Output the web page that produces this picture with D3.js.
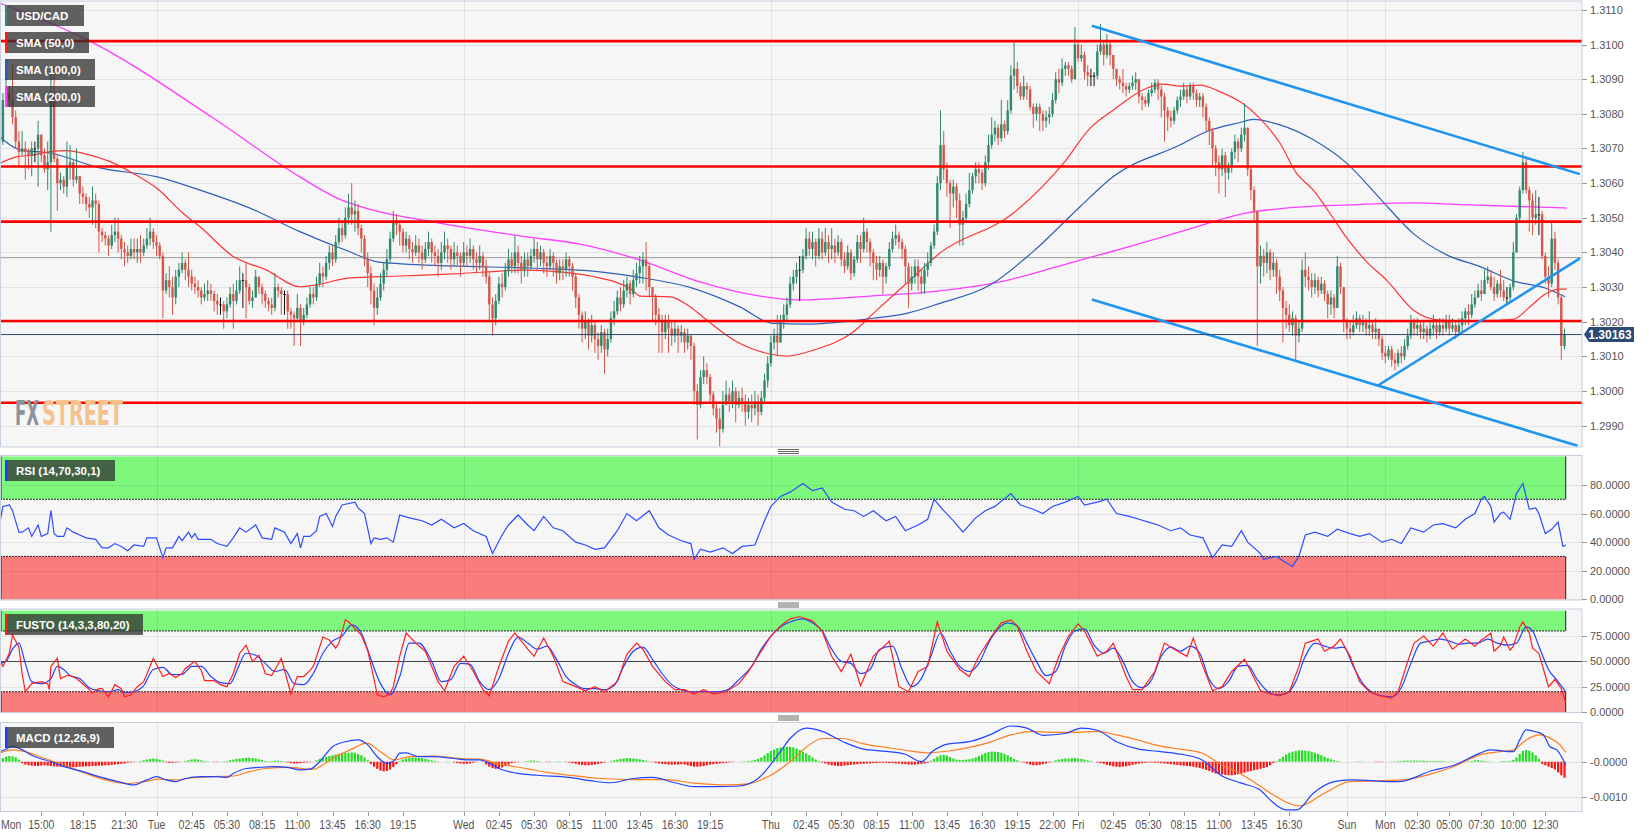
<!DOCTYPE html>
<html><head><meta charset="utf-8">
<script src="https://cdn.jsdelivr.net/npm/d3@7/dist/d3.min.js"></script>
<style>body{margin:0;background:#fff}svg{display:block}</style>
</head><body>
<svg id="c" width="1652" height="838"></svg>
<script>
// ===== DATA (prices in pips above 1.3000; one candle = 15 min) =====
const firstOpen = 72;
const closes = [
84,86,84,79,72,69,70,69,68,70, 70,74,68,64,66,86,67,60,61,59,
65,66,61,62,57,56,54,53,55,54, 46,45,44,42,45,46,44,41,40,39,
41,40,41,40,42,44,46,43,42,39, 29,32,30,27,33,35,37,35,33,31,
30,29,27,28,29,28,26,25,25,23, 25,28,26,29,32,32,30,26,27,33,
30,28,26,25,24,30,29,28,28,23, 22,21,24,20,22,25,28,27,31,34,
33,37,40,38,43,47,45,50,53,51, 52,47,44,38,34,29,24,27,31,35,
38,44,49,48,46,42,44,41,40,42, 40,38,41,43,40,39,37,40,42,41,
38,40,39,37,40,39,41,38,37,39, 36,33,25,21,26,31,30,35,38,36,
40,37,35,38,36,39,41,38,40,37, 36,39,37,34,36,35,38,36,33,27,
22,18,20,16,19,15,13,17,12,15, 21,23,27,25,29,31,28,32,34,36,
38,36,30,27,22,20,17,20,18,16, 18,16,17,14,16,13,0,-4,4,6,
4,-1,-5,-8,-11,-4,-1,-3,0,-4, -2,-3,-6,-4,-5,-3,-6,-2,3,8,
14,16,14,20,22,25,31,33,35,35, 39,44,41,43,39,44,40,43,41,42,
40,43,38,36,40,34,38,43,41,46, 43,40,37,35,37,33,36,41,44,45,
43,41,36,31,33,36,33,31,35,37, 42,46,60,71,64,60,57,59,55,48,
50,54,58,62,64,63,60,66,71,74, 76,73,77,75,81,91,93,88,85,88,
87,82,80,82,80,78,79,80,84,90, 89,93,94,93,90,100,96,97,92,91,
91,91,98,100,97,100,97,93,90,89, 88,87,88,89,90,85,84,83,86,87,
89,87,85,81,79,78,81,84,85,87, 85,88,86,84,85,82,78,75,70,66,
64,68,63,65,69,72,70,74,76,64, 58,52,36,39,37,40,35,37,33,29,
24,22,19,21,16,18,35,33,32,30, 32,29,31,28,25,27,24,36,30,20,
18,17,19,21,19,20,18,19,17,18, 15,11,10,12,9,8,11,10,13,16,
20,18,19,17,18,16,18,19,17,19, 18,20,18,19,17,19,21,23,22,25,
27,29,28,32,33,30,28,31,29,27, 27,30,40,50,58,66,58,55,50,51,
51,39,33,31,44,37,27,13,16.3];
const highs = [
86,94,88,94,81,75,75,72,70,72, 72,78,74,70,72,94,94,68,63,62,
72,71,67,70,61,59,57,56,59,57, 55,47,46,45,48,50,50,45,43,42,
44,44,44,45,44,47,50,47,45,43, 40,34,36,33,35,37,40,38,40,35,
33,32,30,31,32,31,29,28,27,26, 27,30,31,32,36,34,37,31,29,35,
33,31,29,27,27,34,31,30,29,29, 24,23,28,25,24,27,30,30,33,37,
36,39,42,42,45,50,49,53,57,60, 55,54,48,45,40,36,31,30,34,37,
41,46,52,51,49,47,46,45,43,45, 44,42,43,46,44,42,41,43,46,44,
42,43,42,40,43,42,44,42,40,42, 40,38,34,27,28,33,34,37,41,40,
45,42,39,40,40,41,44,43,42,41, 39,41,40,38,38,38,40,39,37,34,
28,23,23,21,22,20,17,19,18,18, 23,26,29,30,32,33,32,35,37,39,
40,43,37,30,28,24,22,22,22,20, 20,19,19,18,18,16,14,2,6,10,
8,5,0,-3,-5,0,3,1,3,1, 0,1,-1,-2,-1,0,-1,0,5,10,
16,18,22,22,25,27,33,35,37,39, 41,47,46,46,44,47,46,47,45,47,
44,45,44,40,42,41,39,45,45,50, 47,44,41,39,39,38,37,43,46,48,
46,44,42,37,36,38,38,35,37,40, 43,48,62,81,75,66,61,61,60,57,
52,57,63,63,66,66,64,68,74,79, 78,77,84,78,84,94,101,95,89,91,
89,88,83,83,83,81,81,82,86,92, 93,96,95,95,94,105,101,100,98,94,
93,92,100,106,101,103,101,97,92,91, 93,89,89,91,92,90,86,85,87,89,
90,90,88,86,82,81,82,85,87,89, 88,89,89,87,86,86,83,79,76,71,
68,70,69,66,70,74,73,76,83,76, 65,59,52,42,41,43,41,40,38,35,
30,26,25,23,22,20,38,40,36,34, 34,33,33,32,29,29,28,39,37,30,
21,20,22,23,22,22,21,23,20,21, 18,16,13,13,13,11,12,13,15,18,
22,21,21,20,20,19,20,22,20,21, 21,22,22,21,20,21,23,24,25,28,
29,31,32,35,36,35,33,32,35,32, 30,31,43,51,59,69,67,59,57,58,
56,52,40,36,49,46,38,28,18];
const lows = [
71,83,82,77,70,65,68,61,64,62, 66,59,66,63,58,46,66,52,58,57,
56,61,59,60,54,54,52,50,48,47, 40,43,42,39,41,43,40,38,36,37,
38,38,37,37,39,41,42,41,39,38, 21,28,27,22,25,30,34,32,30,29,
28,27,25,26,26,26,23,22,22,18, 21,24,18,25,28,24,21,25,24,27,
28,25,24,23,22,23,27,22,22,18, 18,13,20,13,19,21,24,25,26,30,
30,32,35,36,37,42,43,44,48,48, 46,45,40,36,30,25,19,22,26,29,
33,37,43,45,42,40,40,38,37,39, 37,35,37,39,37,36,33,35,38,37,
35,36,36,33,36,36,37,35,34,35, 33,31,20,16,19,25,27,29,33,34,
34,34,31,33,33,35,37,35,36,34, 33,35,33,31,32,32,33,33,29,24,
18,14,15,12,14,11,9,11,5,10, 14,19,22,23,24,27,25,27,30,31,
31,29,27,20,19,11,11,15,11,13, 14,11,14,11,12,9,-4,-14,-5,2,
2,-3,-7,-12,-16,-12,-4,-6,-5,-9, -5,-6,-10,-8,-9,-7,-10,-7,-3,1,
7,12,10,14,18,20,24,29,31,26, 34,38,39,38,36,38,38,39,37,38,
37,39,36,34,35,32,33,37,37,40, 40,36,32,32,33,28,31,35,40,42,
41,38,31,24,29,31,29,28,28,33, 36,41,45,58,61,56,47,53,50,42,
42,49,53,57,60,60,58,59,64,70, 72,71,72,73,74,80,87,86,84,84,
84,81,76,78,75,75,76,77,79,83, 86,88,91,91,89,90,95,95,90,88,
88,88,90,97,94,96,94,90,88,87, 86,85,86,87,87,83,81,82,82,85,
86,84,79,72,75,76,77,80,82,84, 83,84,84,82,82,79,75,71,65,62,
57,62,56,61,63,67,66,69,72,62, 55,49,13,31,33,34,32,33,28,26,
14,18,17,16,9,14,17,30,29,27, 28,27,28,26,21,22,21,24,28,17,
15,15,16,18,17,17,16,16,15,15, 13,9,8,9,7,6,7,8,9,12,
15,16,16,15,15,14,15,16,15,16, 16,17,16,17,15,16,17,19,19,21,
24,27,26,28,31,29,26,27,27,26, 25,26,29,40,49,57,57,46,45,48,
45,38,31,27,30,35,25,9,12];

// moving averages [candle index, pips]
const sma50 = [[-1,65.7],[4.3,67.6],[9.4,68.1],[14.7,69.1],[19.9,69.4],[25.1,68.6],[33.5,66.2],[40.7,62.8],[48.1,58.5],[56.3,51.3],[61.6,47.4],[72,38.8],[82.4,34.9],[92.8,30.1],[97.8,30.6],[107.8,32.6],[124.1,33.2],[140.6,33.8],[163.8,34.9],[174.1,34.4],[183.5,33.2],[196.6,29.2],[199.1,27.4],[208.5,27.2],[214.7,24.3],[219.9,20.5],[229.3,14.2],[238.7,10.9],[244.9,10.1],[253.3,11.8],[265.8,17.1],[272,22.4],[282.4,31.1],[292.8,39.8],[315.7,51.3],[331.4,65.7],[339.7,75.8],[347,81.1],[357.4,87.4],[362.6,88.6],[367.8,88],[374.1,88.3],[380.3,86.4],[387.6,82.9],[392.8,78.7],[399.1,71.5],[404.3,62.8],[409.5,58],[414.7,51.3],[420,44.1],[426.2,37.3],[432.4,32],[440.7,23.4],[449.1,20.5],[461.6,20.3],[472,20.7],[477.2,24.3],[482.4,28.2],[486.6,29.4],[488.7,29.4]];
const sma100 = [[-1,73.4],[5.3,69.6],[14.7,68.7],[30.3,64.4],[48.2,61.8],[61.6,58],[77.2,52.8],[92.8,46],[107.8,40.4],[117.5,37.2],[139.7,36.1],[164.7,35.5],[186.6,34.4],[199.1,32.8],[214.7,29.9],[230.3,24.3],[240.7,19.5],[251.2,19.3],[271.9,21],[282.4,22.4],[292.8,25.3],[308.5,30.6],[323.1,41.2],[336.6,53.2],[347,61.9],[367.8,71],[376.2,74.9],[386.6,77.5],[390.8,78.4],[399.1,76.8],[409.5,72.5],[420,65.7],[430.3,55.6],[440.7,45.5],[451.2,39.3],[461.6,35.9],[472,31.8],[482.4,29.6],[488.2,27.2]];
const sma200 = [[-1,112],[27.2,101],[65.7,78.8],[92.8,61.8],[104.4,55.7],[117.8,51.7],[130.7,49.4],[149.1,46.5],[163.8,44.5],[180.3,42.4],[199.1,37.8],[217.8,31.5],[236.6,27.4],[248.2,26.3],[271,27.4],[292.8,28.9],[311.6,31.5],[330.3,36.1],[348.1,40.7],[367.8,45.9],[388.8,51.4],[405.3,53.1],[421,53.7],[440.6,54.3],[458.5,53.7],[488.8,52.8]];

// drawn levels and trend lines (pips)
const resistLevels = [101, 64.8, 48.9, 20.2, -3.4];
const prevLevel = 38.5;
const lastPrice = 16.3;
const trendLines = [[[340.3,105.4],[492.8,62.6]], [[340.3,26.4],[492.1,-15.8]], [[429.7,1.6],[492.8,38.3]]];

// RSI (14)
const rsiPts = [[-1,53],[0,65],[2,66],[3,62],[5,47],[6,47],[8,50],[9,44],[11,52],[12,44],[14,46],[15,62],[16,46],[17,44],[19,44],[20,50],[22,47],[24,45],[26,43],[29,42],[31,36],[33,36],[35,39],[37,37],[39,34],[41,38],[44,37],[45,43],[48,43],[50,29],[51,36],[53,36],[55,44],[56,41],[58,47],[59,43],[60,46],[61,42],[63,42],[65,42],[67,39],[70,37],[72,43],[74,50],[76,47],[79,52],[81,43],[84,42],[85,50],[88,47],[90,39],[92,46],[93,36],[94,44],[96,44],[98,48],[99,58],[101,60],[103,51],[104,58],[106,66],[110,68],[111,64],[113,60],[115,39],[116,43],[118,42],[120,43],[122,40],[124,59],[127,57],[131,55],[134,52],[137,56],[141,50],[144,53],[147,48],[151,44],[153,32],[156,45],[158,52],[161,59],[164,52],[166,48],[169,58],[172,50],[175,48],[179,40],[182,38],[185,35],[188,36],[192,48],[195,60],[198,55],[202,62],[205,50],[208,45],[212,41],[215,39],[216,28],[218,35],[221,33],[225,36],[228,32],[231,37],[235,38],[238,55],[240,65],[243,72],[246,75],[250,81],[253,76],[256,78],[259,68],[263,63],[266,62],[269,58],[272,62],[276,55],[279,58],[282,48],[286,52],[289,56],[291,70],[294,62],[297,55],[300,47],[304,57],[307,62],[310,65],[315,74],[318,66],[322,63],[325,60],[328,65],[332,68],[336,72],[338,66],[342,68],[345,70],[348,60],[352,58],[355,56],[358,54],[361,52],[365,48],[368,50],[371,45],[375,43],[378,29],[381,38],[384,37],[387,48],[389,40],[393,32],[394,28],[398,30],[400,27],[403,23],[405,30],[407,45],[410,47],[414,44],[417,49],[421,46],[424,44],[427,46],[431,40],[434,42],[437,39],[440,50],[444,47],[447,52],[450,53],[454,50],[457,56],[460,60],[462,70],[463,72],[465,65],[466,54],[468,60],[469,61],[471,56],[473,74],[475,81],[477,63],[479,64],[480,60],[482,46],[484,49],[486,54],[487.5,37],[488.4,38]];

// Full stochastic (14,3,3)  %K red, %D blue
const stoK = [[-1,51],[0,45],[2,58],[3,76],[5,64],[6,38],[7,20],[9,28],[12,30],[14,28],[14.5,22],[15,45],[17,53],[18,33],[20,36],[21,36],[23,33],[26,25],[28,19],[30,23],[31,23],[33,15],[35,27],[37,23],[38,15],[40,17],[42,25],[44,30],[47,53],[50,35],[52,38],[54,34],[56,38],[57,43],[60,50],[62,41],[63,31],[66,31],[68,27],[70,25],[72,38],[74,58],[76,66],[78,50],[80,56],[82,38],[84,36],[87,53],[90,18],[92,35],[94,35],[96,41],[97,45],[100,74],[102,71],[104,63],[105,68],[107,91],[108,89],[112,76],[114,61],[117,17],[119,15],[121,18],[122,25],[124,55],[126,78],[129,68],[132,60],[136,30],[138,21],[141,45],[144,55],[147,40],[150,22],[152,16],[155,45],[158,70],[160,78],[164,62],[166,55],[169,73],[172,55],[175,30],[179,25],[182,21],[185,25],[188,20],[192,30],[195,57],[198,68],[200,62],[203,45],[207,30],[210,22],[213,22],[216,18],[219,22],[222,18],[226,20],[230,28],[233,40],[236,55],[240,75],[243,85],[246,92],[249,94],[253,90],[256,80],[259,55],[262,40],[265,57],[268,26],[272,55],[277,70],[280,25],[283,20],[286,40],[289,45],[292,89],[295,60],[299,42],[302,35],[305,55],[309,75],[312,88],[315,91],[317,85],[320,60],[323,40],[327,28],[330,55],[333,75],[336,87],[338,80],[342,55],[345,60],[347,68],[351,35],[353,22],[356,22],[360,40],[363,68],[366,62],[370,55],[372,73],[375,45],[378,21],[381,25],[384,40],[388,52],[390,40],[393,21],[396,18],[399,16],[402,20],[405,45],[407,68],[411,72],[413,60],[416,65],[418,72],[421,55],[424,30],[427,20],[430,16],[434,14],[436,20],[439,50],[441,68],[444,75],[447,65],[450,78],[453,62],[457,72],[460,65],[462,71],[463,73],[465,78],[466,60],[468,66],[469,74],[471,61],[472,65],[474,84],[475,89],[477,78],[478,63],[480,58],[483,25],[485,32],[487,23],[488.4,9]];
const stoD = [[-1,48],[1,50],[3,62],[5,68],[7,48],[9,30],[12,28],[15,33],[17,45],[19,42],[21,36],[24,33],[27,24],[30,21],[33,20],[36,22],[38,19],[41,20],[44,26],[47,42],[50,44],[53,37],[56,37],[59,45],[62,45],[65,35],[68,29],[71,28],[73,40],[76,58],[79,56],[82,48],[85,40],[88,42],[91,28],[94,27],[97,38],[100,58],[103,70],[106,75],[109,86],[112,78],[115,52],[118,28],[121,17],[124,35],[127,68],[130,68],[134,50],[137,30],[140,32],[143,48],[146,47],[149,30],[152,22],[155,33],[158,58],[161,74],[164,68],[167,62],[170,65],[173,52],[176,35],[179,27],[182,23],[185,23],[188,22],[191,26],[194,45],[197,60],[200,64],[203,52],[206,38],[209,27],[212,22],[215,20],[218,20],[221,20],[224,20],[227,23],[230,32],[234,45],[237,62],[240,75],[243,84],[247,90],[250,92],[253,88],[256,80],[259,62],[262,50],[265,48],[268,38],[271,42],[274,62],[278,65],[281,42],[284,25],[287,33],[290,55],[293,78],[296,60],[299,45],[302,40],[305,48],[308,68],[311,82],[314,88],[317,85],[320,68],[323,50],[326,36],[329,40],[332,65],[335,80],[338,82],[341,66],[344,58],[347,63],[350,50],[353,30],[356,24],[359,32],[362,55],[365,64],[368,60],[371,65],[374,58],[377,32],[380,23],[383,30],[386,45],[389,46],[392,32],[395,21],[398,17],[401,18],[404,30],[407,55],[410,68],[413,65],[416,63],[419,64],[422,45],[425,28],[428,19],[431,16],[434,15],[437,24],[440,48],[443,68],[446,70],[449,72],[452,70],[455,67],[458,68],[461,68],[464,72],[467,68],[470,66],[473,68],[476,84],[478,80],[480,65],[483,42],[486,30],[488.4,20]];

// MACD (12,26,9) in units of 0.0001
const macdLine = [[-1,2.8],[1,3.5],[3,4.4],[5,3.8],[9.5,1.6],[15,0],[20,-1.6],[25,-2.8],[30,-4.2],[36,-5.6],[41,-6.5],[45,-5.1],[48,-4.2],[51,-5.1],[54,-5.6],[57,-4.7],[62,-4.2],[67,-4.2],[70,-4.4],[72,-3.3],[76,-1.9],[80,-1.6],[84.5,-1.4],[89,-1.6],[93,-2.3],[96,-2.1],[99,0],[103,4.2],[107,5.6],[111,6.1],[114,4.7],[117,1.4],[120,-0.5],[122.5,0.5],[124,2.4],[126,2.5],[130,1.4],[134.5,1.4],[141,0.9],[145,0.5],[149,0.5],[152,-0.4],[155,-1.9],[160.5,-3.2],[167,-3.8],[177,-4.4],[183.5,-5.3],[190,-5.9],[197,-4.7],[203,-4.4],[210,-5.9],[216,-7],[223,-7],[230,-6.8],[236,-4.7],[243,2.9],[246,6.5],[251,9.4],[256,8.5],[262.5,5.6],[269,3.5],[276,2.9],[282,2.1],[287,0],[290.5,2.9],[295.5,5],[302,5.6],[308.6,7.6],[315,10],[320,9.4],[325,7.4],[332,7.9],[337,9.4],[342,8.8],[348,5.6],[355,3.5],[361,2.9],[368,2.1],[374.5,0.6],[381,-4],[387,-6],[393,-8],[396,-10.7],[401,-13.5],[404.4,-13.5],[409.4,-8.9],[416,-5.6],[421,-5.1],[436,-5.6],[447,-2.4],[453.5,-1],[461.6,2.4],[464.7,3.3],[472,2.8],[474,6.1],[476,8.9],[479,8.4],[481.4,7.5],[483.5,4.2],[485.6,3.3],[487.6,0.5],[488.4,-0.9]];
const signalLine = [[-1,2.4],[3,3.3],[7,2.8],[11.6,1.4],[16,0],[20,-1.2],[26,-3.3],[32,-5.1],[39,-6.1],[44,-5.6],[49,-4.9],[54,-5.1],[59.5,-4.5],[66,-4.2],[72,-4],[77,-2.8],[82,-1.9],[89,-1.6],[97,-2.1],[100,-0.9],[103,0.9],[108.5,3.3],[113.7,5.2],[118,2.8],[122.5,0.5],[127,1.4],[134.5,1.6],[143,0.9],[149,0.7],[155,-0.6],[164,-2],[170,-3],[177,-3.8],[187,-4.7],[197,-5],[207,-5],[216,-6],[226,-6.5],[233,-6.2],[239.5,-4],[246,0],[251,4],[256,6.5],[262.5,6.5],[269,5],[276,4],[282,3.2],[289,2.5],[295.5,3],[302,4],[308.6,5.5],[315,7.5],[322,8.5],[328,8.2],[335,8.2],[341.6,8.5],[348,7.5],[355,6],[361,4.5],[368,3.5],[374.5,2.5],[381,-1],[386,-3],[390,-5.1],[396.3,-8.9],[405.3,-12.4],[412.8,-8.9],[421,-5.6],[437.7,-5.1],[446,-3.5],[453,-1.5],[461.6,1.9],[467.8,2.8],[472,3.3],[476,6.1],[480.3,7.5],[483.5,6.6],[486.6,4.7],[488.4,2.6]];
// histogram per candle, units of 0.00001
const macdHist = [
10,14,16,15,12,6,-4,-8,-10,-11, -12,-12,-11,-10,-11,-12,-13,-14,-14,-15,
-15,-16,-15,-15,-14,-14,-13,-13,-12,-12, -11,-11,-10,-10,-9,-8,-7,-6,-5,-3,
-2,-1,0,2,4,6,8,9,8,6, 3,-2,-3,-3,-2,-1,0,2,4,6,
7,6,4,2,1,0,-1,-1,0,1, 2,4,6,8,9,10,11,11,10,9,
7,5,2,1,2,3,3,2,1,-2, -4,-5,-5,-4,-3,-2,-1,0,4,8,
11,14,16,18,20,22,23,24,25,26, 25,22,18,12,4,-6,-14,-20,-25,-27,
-26,-22,-15,-7,2,6,9,11,12,12, 11,10,8,6,4,2,1,0,0,1,
0,-2,-4,-5,-6,-6,-5,-3,-1,0, -1,-8,-14,-18,-20,-19,-16,-12,-8,-4,
-2,-1,0,1,2,3,3,2,1,0, -1,-1,0,1,1,0,-1,-2,-4,-6,
-8,-9,-10,-10,-9,-8,-6,-4,-2,0, 2,4,6,8,9,10,10,9,8,7,
5,3,1,-1,-3,-5,-6,-7,-8,-8, -8,-8,-7,-8,-10,-12,-14,-14,-13,-12,
-10,-8,-7,-6,-5,-4,-3,-2,-1,0, 0,1,1,2,3,5,8,12,18,24,
30,34,38,40,41,42,42,40,37,33, 28,23,18,12,6,2,-2,-5,-8,-10,
-11,-12,-12,-11,-10,-9,-8,-7,-6,-6, -5,-5,-4,-4,-3,-3,-3,-4,-4,-5,
-5,-6,-7,-8,-8,-8,-7,-6,-5,-3, 3,8,14,18,19,17,13,9,6,5,
5,6,7,9,12,16,20,24,27,28, 28,27,25,22,18,13,8,4,1,-2,
-5,-8,-10,-10,-9,-7,-5,-2,1,4, 6,8,9,9,10,10,9,8,6,4,
2,0,-2,-4,-6,-9,-11,-13,-14,-15, -14,-13,-11,-9,-7,-5,-4,-3,-2,-2,
-3,-3,-4,-5,-6,-7,-8,-9,-10,-11, -12,-13,-14,-16,-18,-20,-23,-26,-30,-33,
-35,-36,-37,-38,-38,-37,-35,-33,-31,-28, -26,-24,-22,-20,-18,-15,-10,-4,2,8,
14,20,25,28,30,32,32,31,30,28, 25,22,18,14,10,7,4,2,1,0,
0,0,0,1,1,1,0,0,0,-1, -1,-1,0,0,1,1,2,2,3,3,
3,3,3,3,3,2,2,2,2,2, 2,1,1,1,0,0,0,1,1,2,
4,4,3,2,1,1,0,0,1,2, 1,2,5,12,22,30,33,31,26,18,
8,-6,-10,-14,-18,-22,-30,-38,-45];

// x axis ticks (candle index + label)
const xTickIdx = [3,12,25,38,48,59,70,81,92,103,114,125,144,155,166,177,188,199,210,221,240,251,262,273,284,295,306,317,328,336,347,358,369,380,391,402,420,432,442,452,462,472,482];
const xTickLab = ["Mon","15:00","18:15","21:30","Tue","02:45","05:30","08:15","11:00","13:45","16:30","19:15","Wed","02:45","05:30","08:15","11:00","13:45","16:30","19:15","Thu","02:45","05:30","08:15","11:00","13:45","16:30","19:15","22:00","Fri","02:45","05:30","08:15","11:00","13:45","16:30","Sun","Mon","02:30","05:00","07:30","10:00","12:30"];
const dayIdx = [48,144,240,336,420,432];
const priceTicks = [-10,0,10,20,30,40,50,60,70,80,90,100,110];
const rsiTicks = [0,20,40,60,80];
const stoTicks = [0,25,50,75];
const macdTicks = [0,-10];

// ===== DRAW =====
const svg = d3.select('#c');
const PR = 1582;
const P = {main:[1,447], rsi:[455.5,600], sto:[609,712.5], macd:[722.5,811.5]};
const x = d3.scaleLinear().domain([0,488]).range([2.9, 2.9+488*3.2]);
const xEnd = x(488)+1.2;
const yP = d3.scaleLinear().domain([-12,110]).range([432.6, 9.9]);
const yR = d3.scaleLinear().domain([0,100]).range([599.3, 456.4]);
const yS = d3.scaleLinear().domain([0,100]).range([712, 610.7]);
const yM = d3.scaleLinear().domain([-10,0]).range([797.4, 761.7]);
const defs = svg.append('defs');
Object.entries(P).forEach(([k,[a,b]])=>{
  defs.append('clipPath').attr('id','cl-'+k).append('rect').attr('x',0).attr('y',a).attr('width',PR).attr('height',b-a);
});
const FONT = 'Liberation Sans, Arial, sans-serif';
const gridC = 'rgba(0,0,0,0.075)';

function panel(k){
  const [a,b]=P[k];
  svg.append('rect').attr('x',0.5).attr('y',a).attr('width',PR-0.5).attr('height',b-a).attr('fill','#f6f6f6');
  return svg.append('g').attr('clip-path','url(#cl-'+k+')');
}
function frame(k){
  const [a,b]=P[k];
  svg.append('rect').attr('x',0.5).attr('y',a).attr('width',PR-0.5).attr('height',b-a).attr('fill','none').attr('stroke','#c6cfe0').attr('stroke-width',1);
}
function hgrid(g, vals, sc){
  vals.forEach(v=>g.append('line').attr('x1',0).attr('x2',PR).attr('y1',Math.round(sc(v))+0.5).attr('y2',Math.round(sc(v))+0.5).attr('stroke',gridC));
}
function vgrid(g,k){
  const [a,b]=P[k];
  dayIdx.forEach(i=>g.append('line').attr('x1',Math.round(x(i))+0.5).attr('x2',Math.round(x(i))+0.5).attr('y1',a).attr('y2',b).attr('stroke',gridC));
}
function rightAxis(vals, sc, fmt){
  vals.forEach(v=>{
    const yy=sc(v);
    svg.append('line').attr('x1',PR).attr('x2',PR+5).attr('y1',Math.round(yy)+0.5).attr('y2',Math.round(yy)+0.5).attr('stroke','#999');
    svg.append('text').attr('x',PR+8).attr('y',yy+4).attr('font-family',FONT).attr('font-size',11).attr('fill','#555').text(fmt(v));
  });
}
function label(yTop, w, txt, strip){
  svg.append('rect').attr('x',5).attr('y',yTop).attr('width',w).attr('height',21).attr('fill','rgba(48,48,48,0.76)');
  svg.append('rect').attr('x',5).attr('y',yTop).attr('width',2.4).attr('height',21).attr('fill',strip);
  svg.append('text').attr('x',16).attr('y',yTop+15).attr('font-family',FONT).attr('font-weight','bold').attr('font-size',11.5).attr('fill','#fff').text(txt);
}
function bands(g, sc, hiTop, hiBot, loTop, loBot){
  const w = xEnd;
  g.append('rect').attr('x',0).attr('y',sc(hiTop)).attr('width',w).attr('height',sc(hiBot)-sc(hiTop)).attr('fill','#7df87d');
  g.append('rect').attr('x',0).attr('y',sc(loTop)).attr('width',w).attr('height',sc(loBot)-sc(loTop)).attr('fill','#fb7d7b');
  [[hiTop,hiBot],[loTop,loBot]].forEach(([t,b])=>{
    g.append('line').attr('x1',1).attr('x2',1).attr('y1',sc(t)).attr('y2',sc(b)).attr('stroke','#222');
    g.append('line').attr('x1',w).attr('x2',w).attr('y1',sc(t)).attr('y2',sc(b)).attr('stroke','#222');
  });
  g.append('line').attr('x1',0).attr('x2',w).attr('y1',sc(hiBot)).attr('y2',sc(hiBot)).attr('stroke','#222').attr('stroke-dasharray','2,1');
  g.append('line').attr('x1',0).attr('x2',w).attr('y1',sc(loTop)).attr('y2',sc(loTop)).attr('stroke','#222').attr('stroke-dasharray','2,1');
}
const lineOf = (sc, curve)=> d3.line().x(d=>x(d[0])).y(d=>sc(d[1])).curve(curve||d3.curveLinear);

// ---- main panel ----
const gm = panel('main');
hgrid(gm, priceTicks, yP); vgrid(gm,'main');
// watermark (horizontally compressed via transform so boxes stay tight)
const WMF = 'DejaVu Sans Condensed, Liberation Sans, sans-serif';
function wmText(str, x0, w, fill){
  const g = svg.append('g');
  const t = g.append('text').attr('x',0).attr('y',0).attr('font-family',WMF).attr('font-weight','bold').attr('font-size',33).attr('fill',fill).text(str);
  const len = t.node().getComputedTextLength();
  g.attr('transform',`translate(${x0},425) scale(${w/len},1)`);
}
wmText('FX', 15, 24, '#8d939b');
wmText('STREET', 42, 81, '#f4c28c');
// levels
gm.append('line').attr('x1',0).attr('x2',PR).attr('y1',yP(prevLevel)).attr('y2',yP(prevLevel)).attr('stroke','#9a9a9a').attr('stroke-width',1);
// SMAs
gm.append('path').attr('d',lineOf(yP,d3.curveMonotoneX)(sma200)).attr('fill','none').attr('stroke','#ff3dff').attr('stroke-width',1.3);
gm.append('path').attr('d',lineOf(yP,d3.curveMonotoneX)(sma100)).attr('fill','none').attr('stroke','#2f5fb8').attr('stroke-width',1.2);
gm.append('path').attr('d',lineOf(yP,d3.curveMonotoneX)(sma50)).attr('fill','none').attr('stroke','#ff3434').attr('stroke-width',1.2);
// candles
const candles = closes.map((c,i)=>{const o=i===0?firstOpen:closes[i-1];return {i,o,c,h:Math.max(highs[i],o,c),l:Math.min(lows[i],o,c)};});
const col = d=> d.c>d.o ? '#2f8a6b' : (d.c<d.o ? '#d6574a' : '#111');
const cg = gm.append('g');
cg.selectAll('line.w').data(candles).join('line').attr('x1',d=>x(d.i)).attr('x2',d=>x(d.i)).attr('y1',d=>yP(d.h)).attr('y2',d=>yP(d.l)).attr('stroke',col).attr('stroke-width',1);
cg.selectAll('rect.b').data(candles).join('rect').attr('x',d=>x(d.i)-1.2).attr('width',2.4)
  .attr('y',d=>yP(Math.max(d.o,d.c))).attr('height',d=>Math.max(1,Math.abs(yP(d.o)-yP(d.c)))).attr('fill',col);
// horizontal S/R levels
resistLevels.forEach(v=>gm.append('line').attr('x1',0).attr('x2',PR).attr('y1',yP(v)).attr('y2',yP(v)).attr('stroke','#ff0000').attr('stroke-width',2.6));
// trend lines
trendLines.forEach(t=>gm.append('line').attr('x1',x(t[0][0])).attr('y1',yP(t[0][1])).attr('x2',x(t[1][0])).attr('y2',yP(t[1][1])).attr('stroke','#1f95ee').attr('stroke-width',2.6));
// last price line
gm.append('line').attr('x1',0).attr('x2',PR).attr('y1',yP(lastPrice)).attr('y2',yP(lastPrice)).attr('stroke','#2c4670').attr('stroke-width',1);
frame('main');
rightAxis(priceTicks.filter(v=>v>=-10), yP, v=>(1.3+v/10000).toFixed(4));
// last price tag
const ly = yP(lastPrice);
svg.append('path').attr('d',`M${PR+2},${ly} L${PR+7},${ly-7.5} L1634,${ly-7.5} L1634,${ly+7.5} L${PR+7},${ly+7.5} Z`).attr('fill','#2d4a72');
svg.append('text').attr('x',1610).attr('y',ly+4.3).attr('text-anchor','middle').attr('font-family',FONT).attr('font-weight','bold').attr('font-size',12).attr('fill','#fff').text((1.3+lastPrice/10000).toFixed(5));
// legend boxes
label(5,79,'USD/CAD','#2e8a6e');
label(32,84,'SMA (50,0)','#ff1a1a');
label(59,90,'SMA (100,0)','#2a5fb0');
label(86,90,'SMA (200,0)','#ff3dff');

// ---- RSI ----
const gr = panel('rsi');
bands(gr, yR, 100, 70, 30, 0);
hgrid(gr, rsiTicks, yR); vgrid(gr,'rsi');
gr.append('path').attr('d',lineOf(yR)(rsiPts)).attr('fill','none').attr('stroke','#2d4cff').attr('stroke-width',1.2);
frame('rsi');
rightAxis(rsiTicks, yR, v=>v.toFixed(4));
label(460,110,'RSI (14,70,30,1)','#1a3cff');

// ---- Stochastic ----
const gs = panel('sto');
bands(gs, yS, 100, 80, 20, 0);
hgrid(gs, [25,75], yS); vgrid(gs,'sto');
gs.append('line').attr('x1',0).attr('x2',PR).attr('y1',Math.round(yS(50))+0.5).attr('y2',Math.round(yS(50))+0.5).attr('stroke','#444');
gs.append('path').attr('d',lineOf(yS,d3.curveMonotoneX)(stoD)).attr('fill','none').attr('stroke','#2244ff').attr('stroke-width',1.2);
gs.append('path').attr('d',lineOf(yS)(stoK)).attr('fill','none').attr('stroke','#ff1f1f').attr('stroke-width',1.2);
frame('sto');
rightAxis(stoTicks, yS, v=>v.toFixed(4));
label(614,138,'FUSTO (14,3,3,80,20)','#ff1a1a');

// ---- MACD ----
const gd = panel('macd');
hgrid(gd, macdTicks, yM); vgrid(gd,'macd');
gd.selectAll('rect.h').data(macdHist).join('rect')
  .attr('x',(d,i)=>x(i)-1.1).attr('width',2.2)
  .attr('y',d=>d>=0?yM(d/10):yM(0)).attr('height',d=>Math.abs(yM(d/10)-yM(0)))
  .attr('fill',d=>d>=0?'#1fe01f':'#ff1414');
gd.append('path').attr('d',lineOf(yM,d3.curveMonotoneX)(signalLine)).attr('fill','none').attr('stroke','#ff7f1e').attr('stroke-width',1.2);
gd.append('path').attr('d',lineOf(yM,d3.curveMonotoneX)(macdLine)).attr('fill','none').attr('stroke','#2244ff').attr('stroke-width',1.2);
frame('macd');
rightAxis(macdTicks, yM, v=>(v===0?'-0.0000':(v/10000).toFixed(4)));
label(727,109,'MACD (12,26,9)','#1a3cff');

// ---- resize handles ----
[451,604.5,717.5].forEach(yy=>{[-2,0,2].forEach(o=>svg.append('line').attr('x1',778).attr('x2',799).attr('y1',yy+o+0.5).attr('y2',yy+o+0.5).attr('stroke','#666'));});

// ---- x axis (condensed labels) ----
xTickIdx.forEach((i,k)=>{
  const xx = Math.round(x(i))+0.5;
  if(k>0) svg.append('line').attr('x1',xx).attr('x2',xx).attr('y1',812).attr('y2',816).attr('stroke','#999');
  const t = svg.append('text').attr('x', k===0 ? 1 : x(i)).attr('y',829).attr('text-anchor', k===0 ? 'start' : 'middle')
    .attr('font-family',FONT).attr('font-size',12.5).attr('fill','#555').text(xTickLab[k]);
  const len = t.node().getComputedTextLength();
  t.attr('textLength', len*0.84).attr('lengthAdjust','spacingAndGlyphs');
});
</script>
</body></html>
